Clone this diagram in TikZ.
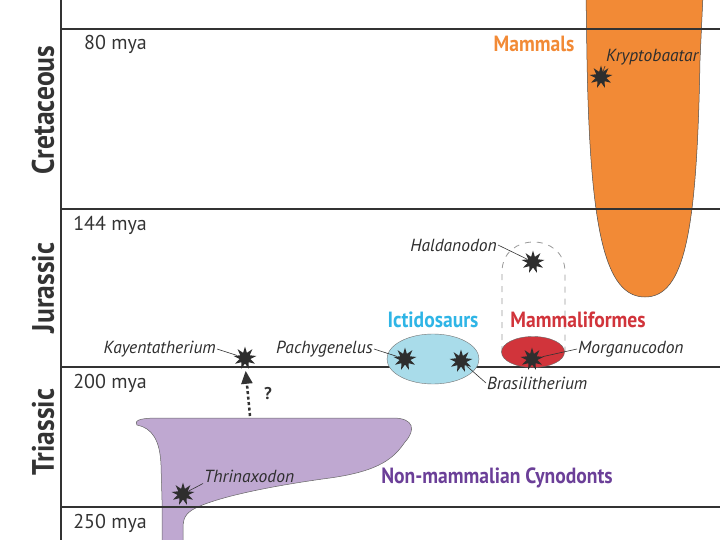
\documentclass[tikz,border=0pt]{standalone}
\usepackage{fontspec}
\usepackage{graphicx}
\setmainfont{PT Sans}
\usetikzlibrary{shapes.geometric,arrows.meta}

\definecolor{linea}{HTML}{333333}
\definecolor{naranja}{HTML}{F28A36}
\definecolor{lila}{HTML}{BFA8D1}
\definecolor{morado}{HTML}{6B3F98}
\definecolor{rojo}{HTML}{D1343B}
\definecolor{celeste}{HTML}{A9DCEA}
\definecolor{cian}{HTML}{2FB5E6}

\newcommand{\angosto}[1]{\scalebox{0.89}[1]{#1}}

\tikzset{
    fosil/.style={star, star points=9, star point ratio=2.1, minimum size=23pt, inner sep=0pt, fill=black!82},
    nombre/.style={font=\fontsize{17.5}{19}\selectfont\itshape, text=black!82, inner sep=1pt},
    guia/.style={draw=black!80, line width=0.6pt},
    periodo/.style={font=\fontsize{31}{33}\selectfont\bfseries, text=linea, rotate=90},
    grupo/.style={font=\fontsize{22}{24}\selectfont\bfseries},
    edad/.style={font=\fontsize{20}{22}\selectfont, text=linea, anchor=base east, inner sep=0pt}
}

\begin{document}
\begin{tikzpicture}[x=1pt, y=-1pt]
    \useasboundingbox (0,0) rectangle (720,540);

    % Mamiferos
    \fill[naranja, draw=black!70, line width=0.5pt] (586,-5) -- (587,60) .. controls (590,230) and (605,297) .. (645,297)
        .. controls (685,297) and (697,230) .. (700,60) -- (703,-5) -- cycle;

    % Cinodontos no mamiferos
    \fill[lila, draw=black!60, line width=0.5pt] (160,418) -- (393,418) .. controls (414,418) and (416,430) .. (405,442)
        .. controls (394,458) and (380,471) .. (330,478) .. controls (270,486) and (212,498) .. (192,510)
        .. controls (183,516) and (183,522) .. (183,530) -- (183,545) -- (162,545) -- (162,500) -- (161,465)
        .. controls (160,440) and (152,428) .. (137,425) .. controls (133,419) and (145,418) .. (160,418) -- cycle;

    % Escala de tiempo
    \draw[linea, line width=2pt] (61,0) -- (61,540);
    \foreach \y/\t in {29/80, 209/144, 367/200, 507/250} {
        \draw[linea, line width=2.4pt] (61,\y) -- (720,\y);
        \node[edad] at (147,\y+21) {\t{} mya};
    }
    \node[periodo] (cretacico) at (43,110) {\angosto{Cretaceous}};
    \node[periodo] (jurasico) at (43,288) {\angosto{Jurassic}};
    \node[periodo] (triasico) at (43,432) {\angosto{Triassic}};

    % Arco punteado de Haldanodon
    \draw[gray!80, line width=0.8pt, dash pattern=on 6pt off 6pt] (502,352) -- (502,272)
        .. controls (502,232) and (565,232) .. (565,272) -- (565,352);

    % Grupos
    \node[ellipse, draw=black!55, fill=celeste, minimum width=92pt, minimum height=50pt, inner sep=0pt] (ictido) at (433,359) {};
    \node[ellipse, draw=black!60, fill=rojo, minimum width=63pt, minimum height=31pt, inner sep=0pt] (mamalif) at (533,352) {};
    \node[grupo, text=naranja] (mamiferos) at (534,44) {\angosto{Mammals}};
    \node[grupo, text=cian] (ictidoLbl) at (433,320) {\angosto{Ictidosaurs}};
    \node[grupo, text=rojo] (mamalifLbl) at (578,320) {\angosto{Mammaliformes}};
    \node[grupo, text=morado] (cinodontos) at (497,478) {\angosto{Non-mammalian Cynodonts}};

    % Fosiles
    \node[fosil] (kayenta) at (245,358) {};
    \node[fosil] (pachy) at (405,359) {};
    \node[fosil] (brasil) at (461,361) {};
    \node[fosil] (morgan) at (532,359) {};
    \node[fosil] (haldan) at (533,262) {};
    \node[fosil] (kripto) at (601,77) {};
    \node[fosil] (thrinax) at (183,494) {};

    \node[nombre, anchor=east] (kayentaLbl) at (217,349) {Kayentatherium};
    \node[nombre, anchor=east] (pachyLbl) at (374,349) {Pachygenelus};
    \node[nombre, anchor=west] (brasilLbl) at (486,383) {Brasilitherium};
    \node[nombre, anchor=west] (morganLbl) at (577,349) {Morganucodon};
    \node[nombre, anchor=east] (haldanLbl) at (498,245) {Haldanodon};
    \node[nombre, anchor=west] (kriptoLbl) at (605,57) {Kryptobaatar};
    \node[nombre, anchor=west] (thrinaxLbl) at (203,476) {Thrinaxodon};

    \draw[guia] (kayentaLbl.east) -- (kayenta);
    \draw[guia] (pachyLbl.east) -- (pachy);
    \draw[guia] (brasilLbl.west) -- (brasil);
    \draw[guia] (morganLbl.west) -- (morgan);
    \draw[guia] (haldanLbl.east) -- (haldan);
    \draw[guia] (kriptoLbl.south west) -- (kripto);
    \draw[guia] (thrinaxLbl.south west) -- (thrinax);

    % Origen incierto
    \coordinate (origen) at (250,416);
    \draw[linea, line width=2.5pt, dash pattern=on 3pt off 2.5pt, -{Triangle[length=13pt, width=11pt]}, shorten >=7pt]
        (origen) -- (kayenta.south);
    \node[font=\fontsize{17}{19}\selectfont\bfseries, text=linea] (duda) at (268,394) {?};
\end{tikzpicture}
\end{document}
